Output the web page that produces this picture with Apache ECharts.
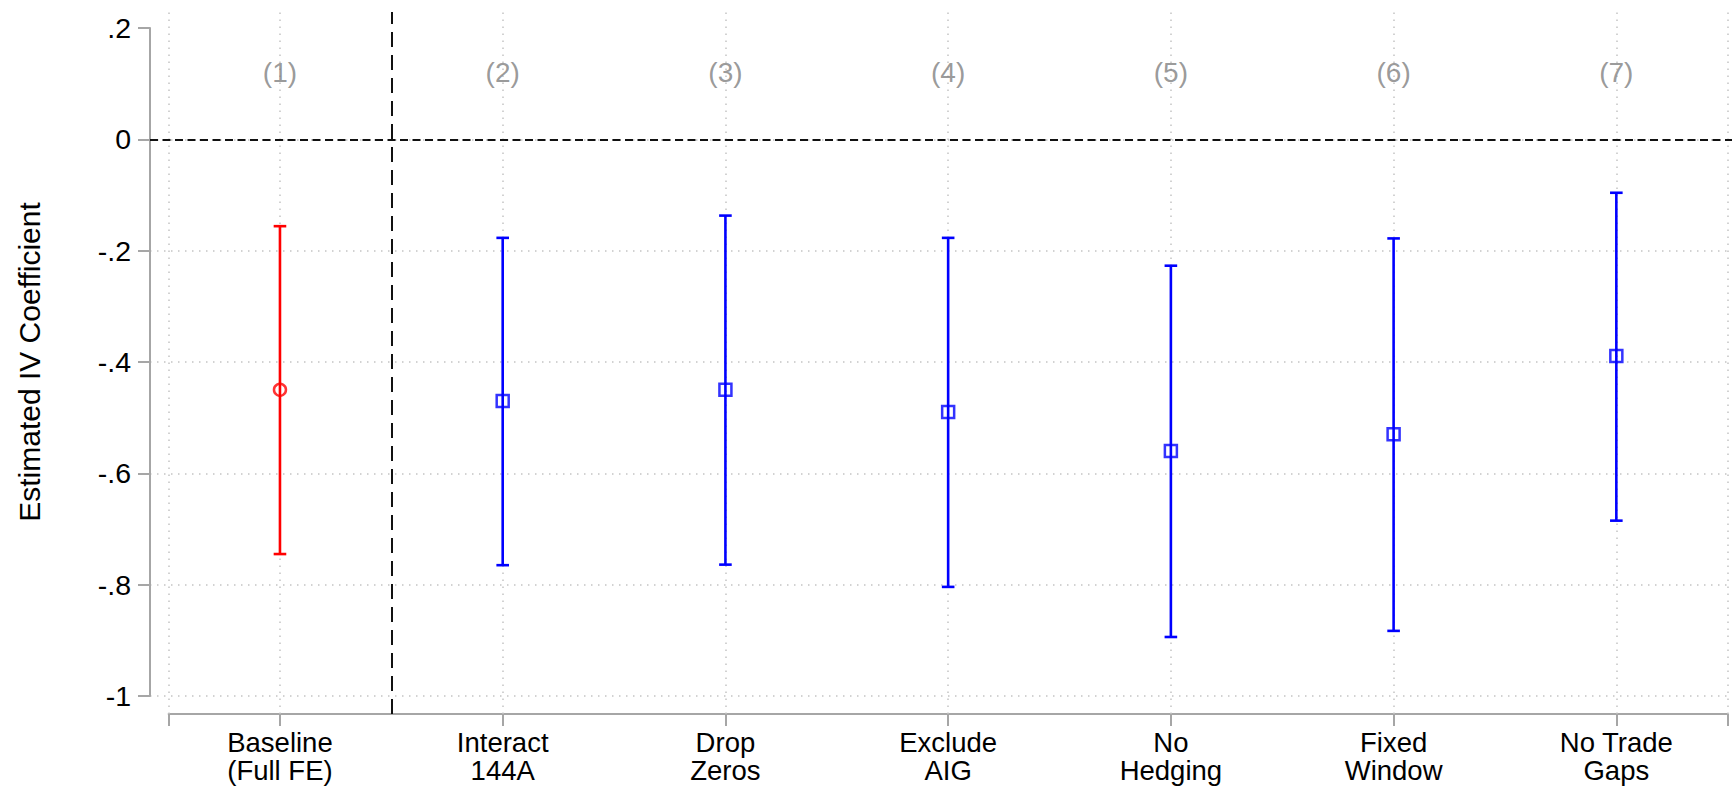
<!DOCTYPE html>
<html>
<head>
<meta charset="utf-8">
<script src="https://cdn.jsdelivr.net/npm/echarts@6/dist/echarts.min.js"></script>
<style>
  html, body { margin: 0; padding: 0; background: #ffffff; }
  #chart { width: 1736px; height: 790px; }
</style>
</head>
<body>
<div id="chart"></div>
<script>
// ---- data ----
const categories = ['Baseline\n(Full FE)', 'Interact\n144A', 'Drop\nZeros', 'Exclude\nAIG', 'No\nHedging', 'Fixed\nWindow', 'No Trade\nGaps'];
const columnLabels = ['(1)', '(2)', '(3)', '(4)', '(5)', '(6)', '(7)'];
const estimates = [-0.450, -0.470, -0.450, -0.490, -0.560, -0.530, -0.389];
const ciLow     = [-0.745, -0.765, -0.764, -0.804, -0.894, -0.883, -0.685];
const ciHigh    = [-0.156, -0.177, -0.137, -0.177, -0.227, -0.178, -0.096];
const isBaseline = [true, false, false, false, false, false, false];
const columnLabelY = 0.12;

// ---- layout helpers ----
const FONT = '"Liberation Sans", Arial, Helvetica, sans-serif';
const RED = '#ff0000', BLUE = '#0000ff';
const PX_PER_UNIT = (696 - 28) / 1.2;
const yMaxData = 0.2 + (28 - 12) / PX_PER_UNIT;
const yMinData = -1 - (714 - 696) / PX_PER_UNIT;

const xs = categories.map((_, i) => i + 1);
const baseIdx = xs.map((x, i) => i).filter(i => isBaseline[i]);
const robIdx = xs.map((x, i) => i).filter(i => !isBaseline[i]);

function barData(idx) { return idx.map(i => [xs[i], ciLow[i], ciHigh[i]]); }
function pointData(idx) { return idx.map(i => [xs[i], estimates[i]]); }

function errorBarRender(color) {
  return function (params, api) {
    const x = api.value(0);
    const lo = api.coord([x, api.value(1)]);
    const hi = api.coord([x, api.value(2)]);
    const hw = 6.3;
    const style = { stroke: color, lineWidth: 2.6, fill: null };
    return {
      type: 'group',
      children: [
        { type: 'line', shape: { x1: lo[0], y1: lo[1], x2: hi[0], y2: hi[1] }, style: style },
        { type: 'line', shape: { x1: lo[0] - hw, y1: lo[1], x2: lo[0] + hw, y2: lo[1] }, style: style },
        { type: 'line', shape: { x1: hi[0] - hw, y1: hi[1], x2: hi[0] + hw, y2: hi[1] }, style: style }
      ]
    };
  };
}

const gridLineStyle = { color: '#c4c4c4', width: 1.5, type: [1.5, 5.5] };
const vGridValues = [0.5].concat(xs, [7.5]);

const chart = echarts.init(document.getElementById('chart'), null, { renderer: 'svg' });
chart.setOption({
  animation: false,
  backgroundColor: '#ffffff',
  grid: [
    { left: 150, right: 4, top: 28, bottom: 94 },
    { left: 168.6, right: 8.3, top: 12, bottom: 76 }
  ],
  xAxis: [
    { gridIndex: 0, type: 'value', min: 0, max: 1, show: false },
    {
      gridIndex: 1, type: 'value', min: 0.5, max: 7.5,
      axisLine: { show: true, onZero: false, lineStyle: { color: '#a6a6a6', width: 2 } },
      axisTick: { show: true, length: 12, customValues: vGridValues, lineStyle: { color: '#a6a6a6', width: 2 } },
      axisLabel: {
        customValues: xs, margin: 14, color: '#000', fontSize: 27.5, lineHeight: 28, fontFamily: FONT,
        formatter: v => categories[Math.round(v) - 1]
      },
      splitLine: { show: false }
    }
  ],
  yAxis: [
    {
      gridIndex: 0, type: 'value', min: -1, max: 0.2, interval: 0.2,
      name: 'Estimated IV Coefficient', nameLocation: 'middle', nameGap: 106,
      nameTextStyle: { fontSize: 30, color: '#000', fontFamily: FONT },
      axisLine: { show: true, lineStyle: { color: '#a6a6a6', width: 2 } },
      axisTick: { show: true, length: 12, lineStyle: { color: '#a6a6a6', width: 2 } },
      axisLabel: {
        margin: 19, color: '#000', fontSize: 28.5, fontFamily: FONT,
        formatter: v => {
          const r = Math.round(v * 10) / 10;
          return String(r).replace('0.', '.');
        }
      },
      splitLine: { show: true, showMaxLine: false, lineStyle: gridLineStyle }
    },
    { gridIndex: 1, type: 'value', min: yMinData, max: yMaxData, show: false }
  ],
  series: [
    {
      // vertical dotted grid lines
      type: 'line', xAxisIndex: 1, yAxisIndex: 1, data: [], silent: true, z: 1,
      markLine: {
        silent: true, symbol: 'none', label: { show: false },
        lineStyle: gridLineStyle,
        data: vGridValues.map(v => ({ xAxis: v }))
      }
    },
    {
      // vertical dashed separator after baseline
      type: 'line', xAxisIndex: 1, yAxisIndex: 1, data: [], silent: true, z: 3,
      markLine: {
        silent: true, symbol: 'none', label: { show: false },
        lineStyle: { color: '#111', width: 2, type: [15, 8] },
        data: [{ xAxis: 1.5 }]
      }
    },
    {
      // zero reference line
      type: 'line', xAxisIndex: 0, yAxisIndex: 0, data: [], silent: true, z: 3,
      markLine: {
        silent: true, symbol: 'none', label: { show: false },
        lineStyle: { color: '#111', width: 2, type: [8, 4.5] },
        data: [{ yAxis: 0 }]
      }
    },
    {
      type: 'custom', xAxisIndex: 1, yAxisIndex: 1, z: 5,
      renderItem: errorBarRender(RED), data: barData(baseIdx)
    },
    {
      type: 'custom', xAxisIndex: 1, yAxisIndex: 1, z: 5,
      renderItem: errorBarRender(BLUE), data: barData(robIdx)
    },
    {
      type: 'scatter', xAxisIndex: 1, yAxisIndex: 1, z: 6,
      symbol: 'circle', symbolSize: 12,
      itemStyle: { color: 'transparent', borderColor: RED, borderWidth: 2.5 },
      data: pointData(baseIdx)
    },
    {
      type: 'scatter', xAxisIndex: 1, yAxisIndex: 1, z: 6,
      symbol: 'rect', symbolSize: 12,
      itemStyle: { color: 'transparent', borderColor: BLUE, borderWidth: 2.5 },
      data: pointData(robIdx)
    },
    {
      type: 'scatter', xAxisIndex: 1, yAxisIndex: 1, z: 6,
      symbol: 'circle', symbolSize: 1,
      itemStyle: { color: 'transparent' },
      label: {
        show: true, position: 'inside', color: '#808080', fontSize: 28, fontFamily: FONT,
        formatter: p => columnLabels[p.dataIndex]
      },
      data: xs.map(x => [x, columnLabelY])
    }
  ]
});
</script>
</body>
</html>
